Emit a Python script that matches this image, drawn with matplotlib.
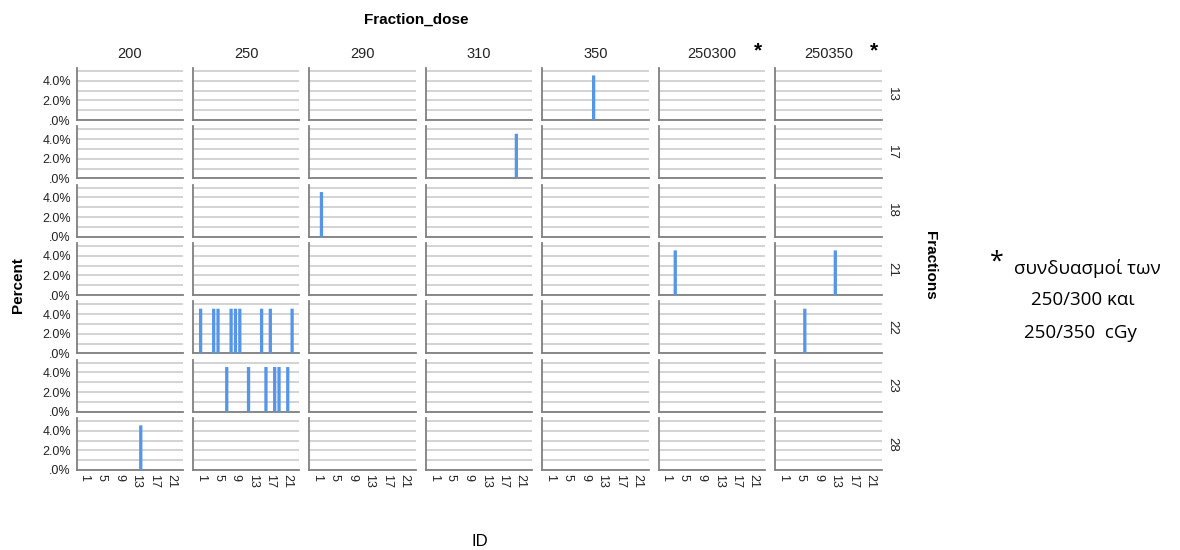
import numpy as np
import matplotlib.pyplot as plt
from matplotlib.ticker import FixedLocator, FuncFormatter

# patients, the dose scheme (cGy per fraction) and the number of fractions of each
ids = list(range(1, 23))
patient_dose = ['250', '290', '250300', '250', '250', '250350', '250', '250', '250', '250', '350',
                '250', '250350', '200', '250', '250', '250', '250', '250', '310', '250', '250']
patient_fractions = ['22', '18', '21', '22', '22', '22', '23', '22', '22', '22', '13',
                     '23', '21', '28', '22', '23', '22', '23', '23', '17', '23', '22']

dose_levels = ['200', '250', '290', '310', '350', '250300', '250350']
fraction_levels = ['13', '17', '18', '21', '22', '23', '28']
starred = ['250300', '250350']

x_ticks = [1, 5, 9, 13, 17, 21]
y_ticks = [0, 2, 4]
y_grid = [1, 3, 5]

bar_color = '#5696e8'
axis_color = '#808080'
grid_color = '#d3d3d3'

plt.rcParams['font.family'] = ['Liberation Sans', 'DejaVu Sans']

fig, axs = plt.subplots(7, 7, figsize=(11.8, 5.5), dpi=100, sharex=True, sharey=True)
plt.subplots_adjust(left=76.5 / 1180, right=881.5 / 1180, top=(550 - 68) / 550,
                    bottom=(550 - 470) / 550, wspace=0.098, hspace=0.12)

n_total = len(ids)

for r, frac in enumerate(fraction_levels):
    for c, dose in enumerate(dose_levels):
        ax = axs[r, c]
        # percent of all patients per ID inside this cell
        xs = [i for i, d, f in zip(ids, patient_dose, patient_fractions) if d == dose and f == frac]
        pct = [100.0 / n_total for _ in xs]
        ax.bar(xs, pct, width=0.75, color=bar_color, zorder=3, snap=False)

        ax.set_xlim(-0.75, 23.6)
        ax.set_ylim(0, 5.3)
        ax.yaxis.set_major_locator(FixedLocator(y_ticks))
        ax.yaxis.set_minor_locator(FixedLocator(y_grid))
        ax.xaxis.set_major_locator(FixedLocator(x_ticks))
        ax.yaxis.set_major_formatter(FuncFormatter(lambda v, p: f'{v:.1f}%'.lstrip('0')))
        ax.grid(True, axis='y', which='both', color=grid_color, lw=1.4, zorder=0)
        ax.set_axisbelow(True)

        for side in ['top', 'right']:
            ax.spines[side].set_visible(False)
        for side in ['left', 'bottom']:
            ax.spines[side].set_color(axis_color)
            ax.spines[side].set_linewidth(1.3)

        ax.tick_params(axis='both', which='both', length=0, labelsize=9, colors='#222222')
        ax.tick_params(axis='y', pad=4)
        ax.tick_params(axis='x', pad=3, labelrotation=270)
        if c > 0:
            ax.tick_params(axis='y', labelleft=False)

        if r == 0:
            ax.set_title(dose, fontsize=10.5, pad=7, color='#222222')
            if dose in starred:
                ax.text(0.93, 1.33, '*', transform=ax.transAxes, fontsize=15,
                        fontweight='bold', ha='center', va='center')
        if c == len(dose_levels) - 1:
            ax.text(1.1, 0.5, frac, transform=ax.transAxes, rotation=270,
                    fontsize=9.5, ha='center', va='center', color='#222222')

# shared axis titles
fig.text(416 / 1180, 1 - 20 / 550, 'Fraction_dose', fontsize=11, fontweight='bold',
         ha='center', va='center')
fig.text(18 / 1180, 1 - 285 / 550, 'Percent', fontsize=11, fontweight='bold',
         rotation=90, ha='center', va='center')
fig.text(930 / 1180, 1 - 265 / 550, 'Fractions', fontsize=11, fontweight='bold',
         rotation=270, ha='center', va='center')
fig.text(480 / 1180, 1 - 541 / 550, 'ID', fontsize=12, ha='center', va='center')

# note on the combined schemes
note_font = ['Open Sans', 'DejaVu Sans']
fig.text(997 / 1180, 1 - 262 / 550, '*', fontsize=18, family=note_font, ha='center', va='center')
fig.text(1087 / 1180, 1 - 268 / 550, 'συνδυασμοί των', fontsize=13.5, family=note_font,
         ha='center', va='center')
fig.text(1083 / 1180, 1 - 300 / 550, '250/300 και', fontsize=13.5, family=note_font,
         ha='center', va='center')
fig.text(1080 / 1180, 1 - 333 / 550, '250/350  cGy', fontsize=13.5, family=note_font,
         ha='center', va='center')

fig.savefig('out.png', dpi=100)
